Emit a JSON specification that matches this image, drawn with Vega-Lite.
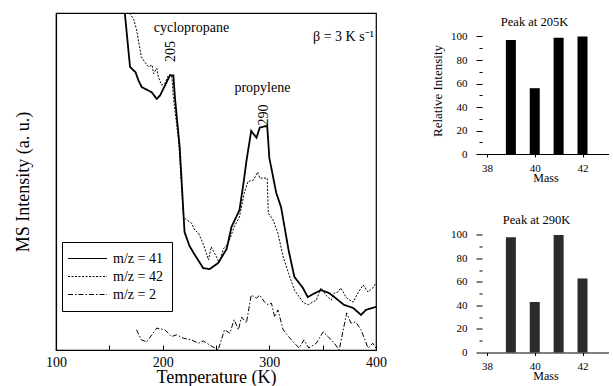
{
  "$schema": "https://vega.github.io/schema/vega-lite/v6.json",
  "padding": {"left": 13, "top": 12, "right": 0, "bottom": 0},
  "background": "white",
  "config": {
    "font": "Liberation Serif",
    "view": {"stroke": null},
    "axis": {"domainColor": "black", "tickColor": "black", "labelColor": "black", "titleColor": "black", "labelFont": "Liberation Serif", "titleFont": "Liberation Serif", "titleFontWeight": "normal", "grid": false, "labelOverlap": false},
    "title": {"font": "Liberation Serif", "fontWeight": "normal", "color": "black"},
    "text": {"font": "Liberation Serif", "color": "black"}
  },
  "datasets": {
    "tpd": [
      {"T":164.5,"I":100,"s":"m/z = 41"},{"T":169.4,"I":84,"s":"m/z = 41"},{"T":174.6,"I":82.4,"s":"m/z = 41"},{"T":177.3,"I":80,"s":"m/z = 41"},{"T":180.4,"I":78,"s":"m/z = 41"},{"T":183.5,"I":77.5,"s":"m/z = 41"},{"T":189.7,"I":76.5,"s":"m/z = 41"},{"T":194.4,"I":74.5,"s":"m/z = 41"},{"T":197.5,"I":75.5,"s":"m/z = 41"},{"T":202.2,"I":78.5,"s":"m/z = 41"},{"T":206.8,"I":81.5,"s":"m/z = 41"},{"T":210,"I":81.5,"s":"m/z = 41"},{"T":211.5,"I":75,"s":"m/z = 41"},{"T":216,"I":60,"s":"m/z = 41"},{"T":220.5,"I":35,"s":"m/z = 41"},{"T":225,"I":31,"s":"m/z = 41"},{"T":229,"I":28.8,"s":"m/z = 41"},{"T":238,"I":24.3,"s":"m/z = 41"},{"T":244,"I":24,"s":"m/z = 41"},{"T":252,"I":25.8,"s":"m/z = 41"},{"T":260,"I":30,"s":"m/z = 41"},{"T":264.5,"I":36.5,"s":"m/z = 41"},{"T":272,"I":41.5,"s":"m/z = 41"},{"T":276,"I":50,"s":"m/z = 41"},{"T":278.5,"I":56,"s":"m/z = 41"},{"T":283,"I":65,"s":"m/z = 41"},{"T":288,"I":63,"s":"m/z = 41"},{"T":291,"I":66,"s":"m/z = 41"},{"T":298,"I":66.5,"s":"m/z = 41"},{"T":300,"I":57,"s":"m/z = 41"},{"T":306.5,"I":46.6,"s":"m/z = 41"},{"T":311,"I":42.4,"s":"m/z = 41"},{"T":318,"I":29.7,"s":"m/z = 41"},{"T":323.5,"I":21.7,"s":"m/z = 41"},{"T":331.5,"I":18.4,"s":"m/z = 41"},{"T":336,"I":15.7,"s":"m/z = 41"},{"T":341,"I":16.6,"s":"m/z = 41"},{"T":348.5,"I":17.8,"s":"m/z = 41"},{"T":356,"I":16.9,"s":"m/z = 41"},{"T":361,"I":15.7,"s":"m/z = 41"},{"T":364.5,"I":14.8,"s":"m/z = 41"},{"T":370,"I":13.4,"s":"m/z = 41"},{"T":378.5,"I":12.5,"s":"m/z = 41"},{"T":386,"I":10.4,"s":"m/z = 41"},{"T":390.5,"I":11.9,"s":"m/z = 41"},{"T":400,"I":12.8,"s":"m/z = 41"},
      {"T":169,"I":100,"s":"m/z = 42"},{"T":173,"I":98,"s":"m/z = 42"},{"T":175.5,"I":95,"s":"m/z = 42"},{"T":180,"I":87,"s":"m/z = 42"},{"T":183,"I":85.5,"s":"m/z = 42"},{"T":187,"I":84,"s":"m/z = 42"},{"T":190,"I":84.6,"s":"m/z = 42"},{"T":191.5,"I":82,"s":"m/z = 42"},{"T":194.5,"I":83.6,"s":"m/z = 42"},{"T":196,"I":81,"s":"m/z = 42"},{"T":199,"I":78.6,"s":"m/z = 42"},{"T":202,"I":79,"s":"m/z = 42"},{"T":205.5,"I":81.6,"s":"m/z = 42"},{"T":208.5,"I":81.6,"s":"m/z = 42"},{"T":210,"I":75,"s":"m/z = 42"},{"T":215,"I":62,"s":"m/z = 42"},{"T":219.5,"I":39.5,"s":"m/z = 42"},{"T":222.5,"I":38.6,"s":"m/z = 42"},{"T":227,"I":37.7,"s":"m/z = 42"},{"T":230,"I":35.6,"s":"m/z = 42"},{"T":233.5,"I":34.7,"s":"m/z = 42"},{"T":236.5,"I":32.6,"s":"m/z = 42"},{"T":239,"I":30.6,"s":"m/z = 42"},{"T":243,"I":26.7,"s":"m/z = 42"},{"T":245.5,"I":30.6,"s":"m/z = 42"},{"T":248.5,"I":28.8,"s":"m/z = 42"},{"T":253,"I":26,"s":"m/z = 42"},{"T":257,"I":30,"s":"m/z = 42"},{"T":261.5,"I":31.7,"s":"m/z = 42"},{"T":267,"I":36.5,"s":"m/z = 42"},{"T":272,"I":39.5,"s":"m/z = 42"},{"T":276.5,"I":46.6,"s":"m/z = 42"},{"T":280,"I":50,"s":"m/z = 42"},{"T":285,"I":50.4,"s":"m/z = 42"},{"T":289,"I":52.8,"s":"m/z = 42"},{"T":291,"I":51,"s":"m/z = 42"},{"T":298,"I":51,"s":"m/z = 42"},{"T":299,"I":40.6,"s":"m/z = 42"},{"T":303.5,"I":38.6,"s":"m/z = 42"},{"T":308,"I":34.7,"s":"m/z = 42"},{"T":313,"I":27.6,"s":"m/z = 42"},{"T":318,"I":22.8,"s":"m/z = 42"},{"T":323.5,"I":17.8,"s":"m/z = 42"},{"T":331.5,"I":14.2,"s":"m/z = 42"},{"T":336,"I":13.4,"s":"m/z = 42"},{"T":344,"I":14.8,"s":"m/z = 42"},{"T":348.5,"I":18.4,"s":"m/z = 42"},{"T":353,"I":16.3,"s":"m/z = 42"},{"T":358,"I":14.8,"s":"m/z = 42"},{"T":361,"I":16.9,"s":"m/z = 42"},{"T":364.5,"I":17.2,"s":"m/z = 42"},{"T":367,"I":18.4,"s":"m/z = 42"},{"T":372.5,"I":15.4,"s":"m/z = 42"},{"T":378.5,"I":14.2,"s":"m/z = 42"},{"T":383,"I":16.9,"s":"m/z = 42"},{"T":388,"I":19.3,"s":"m/z = 42"},{"T":392.5,"I":17.2,"s":"m/z = 42"},{"T":397,"I":18.4,"s":"m/z = 42"},{"T":400,"I":19.9,"s":"m/z = 42"},
      {"T":175.5,"I":6,"s":"m/z =   2"},{"T":180,"I":3,"s":"m/z =   2"},{"T":185,"I":2.4,"s":"m/z =   2"},{"T":194.5,"I":6.5,"s":"m/z =   2"},{"T":202,"I":6,"s":"m/z =   2"},{"T":208.5,"I":4,"s":"m/z =   2"},{"T":213,"I":4.5,"s":"m/z =   2"},{"T":219.5,"I":3.5,"s":"m/z =   2"},{"T":227,"I":3,"s":"m/z =   2"},{"T":233.5,"I":2,"s":"m/z =   2"},{"T":238,"I":2.7,"s":"m/z =   2"},{"T":244,"I":1.5,"s":"m/z =   2"},{"T":252,"I":0,"s":"m/z =   2"},{"T":258,"I":6,"s":"m/z =   2"},{"T":263,"I":5,"s":"m/z =   2"},{"T":267,"I":9,"s":"m/z =   2"},{"T":271,"I":6,"s":"m/z =   2"},{"T":274,"I":9.8,"s":"m/z =   2"},{"T":278.5,"I":8,"s":"m/z =   2"},{"T":283,"I":16.3,"s":"m/z =   2"},{"T":288,"I":15.4,"s":"m/z =   2"},{"T":291,"I":16.3,"s":"m/z =   2"},{"T":295.5,"I":14.2,"s":"m/z =   2"},{"T":299,"I":13.4,"s":"m/z =   2"},{"T":302,"I":13.9,"s":"m/z =   2"},{"T":305,"I":9.8,"s":"m/z =   2"},{"T":308,"I":11.9,"s":"m/z =   2"},{"T":313,"I":6,"s":"m/z =   2"},{"T":318,"I":4,"s":"m/z =   2"},{"T":323.5,"I":2,"s":"m/z =   2"},{"T":328,"I":0.6,"s":"m/z =   2"},{"T":332.5,"I":3,"s":"m/z =   2"},{"T":337,"I":0.6,"s":"m/z =   2"},{"T":344,"I":2,"s":"m/z =   2"},{"T":350.5,"I":5.4,"s":"m/z =   2"},{"T":355,"I":4,"s":"m/z =   2"},{"T":361,"I":2,"s":"m/z =   2"},{"T":365.5,"I":0,"s":"m/z =   2"},{"T":372.5,"I":11,"s":"m/z =   2"},{"T":376.5,"I":8,"s":"m/z =   2"},{"T":381,"I":8.3,"s":"m/z =   2"},{"T":386,"I":6,"s":"m/z =   2"},{"T":392.5,"I":0.6,"s":"m/z =   2"},{"T":397,"I":2,"s":"m/z =   2"},{"T":400,"I":0.6,"s":"m/z =   2"}
    ],
    "p205": [{"mass":39,"ri":97},{"mass":40,"ri":56},{"mass":41,"ri":99},{"mass":42,"ri":100}],
    "p290": [{"mass":39,"ri":98},{"mass":40,"ri":43},{"mass":41,"ri":100},{"mass":42,"ri":63}]
  },
  "spacing": 43,
  "hconcat": [
    {
      "width": 320, "height": 337,
      "view": {"stroke": "black", "strokeWidth": 1.2},
      "layer": [
        {
          "data": {"name": "tpd"},
          "mark": {"type": "line", "clip": true, "color": "black"},
          "encoding": {
            "x": {"field": "T", "type": "quantitative", "scale": {"domain": [100, 400], "nice": false, "zero": false},
              "axis": {"values": [100,150,200,250,300,350,400], "labelExpr": "datum.value % 100 == 0 ? datum.label : ''", "tickSize": -5, "labelFontSize": 14, "labelPadding": 10, "labelFlush": false, "title": "Temperature (K)", "titleFontSize": 18, "titlePadding": -1, "domainWidth": 1.2}},
            "y": {"field": "I", "type": "quantitative", "scale": {"domain": [0, 100], "nice": false},
              "axis": {"labels": false, "ticks": false, "title": "MS Intensity (a. u.)", "titleFontSize": 18, "titlePadding": 24, "domainWidth": 1.2}},
            "strokeDash": {"field": "s", "type": "nominal",
              "scale": {"domain": ["m/z = 41", "m/z = 42", "m/z =   2"], "range": [[1, 0], [2, 1.5], [5, 2, 1.5, 2]]},
              "legend": {"orient": "none", "legendX": 6, "legendY": 229, "title": null, "symbolType": "M-3,0H3", "symbolSize": 169, "symbolOffset": 9, "labelOffset": 18, "symbolStrokeWidth": 1.2, "symbolStrokeColor": "black", "labelFont": "Liberation Serif", "labelFontSize": 14, "labelColor": "black", "strokeColor": "black", "fillColor": "white", "padding": 9, "rowPadding": 3}},
            "strokeWidth": {"condition": {"test": "datum.s == 'm/z = 41'", "value": 1.8}, "value": 1}
          }
        },
        {
          "data": {"values": [{"T": 227, "I": 95.5, "label": "cyclopropane"}, {"T": 293.5, "I": 77.6, "label": "propylene"}]},
          "mark": {"type": "text", "fontSize": 14, "baseline": "middle", "align": "center"},
          "encoding": {"x": {"field": "T", "type": "quantitative"}, "y": {"field": "I", "type": "quantitative"}, "text": {"field": "label"}}
        },
        {
          "data": {"values": [{"T": 207.5, "I": 88.6, "label": "205"}, {"T": 295.3, "I": 69.7, "label": "290"}]},
          "mark": {"type": "text", "fontSize": 14, "angle": 270, "baseline": "middle", "align": "center"},
          "encoding": {"x": {"field": "T", "type": "quantitative"}, "y": {"field": "I", "type": "quantitative"}, "text": {"field": "label"}}
        },
        {
          "data": {"values": [{"T": 398, "I": 93, "label": "β = 3 K s⁻¹"}]},
          "mark": {"type": "text", "fontSize": 14, "baseline": "middle", "align": "right"},
          "encoding": {"x": {"field": "T", "type": "quantitative"}, "y": {"field": "I", "type": "quantitative"}, "text": {"field": "label"}}
        }
      ]
    },
    {"spacing": 26.5, "vconcat": [
      {
        "width": 127, "height": 141,
        "title": {"text": "Peak at 205K", "fontSize": 12.5, "offset": -21, "baseline": "middle", "dx": -11},
        "resolve": {"axis": {"x": "independent", "y": "independent"}},
        "layer": [
          {
            "data": {"name": "p205"},
            "mark": {"type": "bar", "color": "black", "size": 10},
            "encoding": {
              "x": {"field": "mass", "type": "quantitative", "scale": {"domain": [38, 42.9], "nice": false, "zero": false},
                "axis": {"values": [38, 40, 42], "tickSize": 3, "labelFontSize": 11, "labelPadding": 5, "labelFlush": false, "title": "Mass", "titleFontSize": 12, "titlePadding": -1}},
              "y": {"field": "ri", "type": "quantitative", "scale": {"domain": [0, 120], "nice": false},
                "axis": {"domain": false, "labelOverlap": false, "values": [0,10,20,30,40,50,60,70,80,90,100], "labelExpr": "datum.value % 20 == 0 ? datum.label : ''", "tickSize": {"condition": {"test": "datum.value % 20 == 0", "value": 6}, "value": 3}, "labelFontSize": 11, "labelPadding": 9, "title": "Relative Intensity", "titleFontSize": 13, "titlePadding": 6, "titleY": 77.5}}
            }
          },
          {
            "mark": {"type": "rule", "color": "black"},
            "encoding": {"x": {"datum": 38, "axis": null}, "y": {"datum": 0, "axis": null}, "y2": {"datum": 104}}
          }
        ]
      },
      {
        "width": 127, "height": 143,
        "title": {"text": "Peak at 290K", "fontSize": 12.5, "offset": -22.5, "baseline": "middle", "dx": -9},
        "resolve": {"axis": {"x": "independent", "y": "independent"}},
        "layer": [
          {
            "data": {"name": "p290"},
            "mark": {"type": "bar", "color": "#2b2b2b", "size": 10},
            "encoding": {
              "x": {"field": "mass", "type": "quantitative", "scale": {"domain": [38, 42.9], "nice": false, "zero": false},
                "axis": {"values": [38, 40, 42], "tickSize": 3, "labelFontSize": 11, "labelPadding": 5, "labelFlush": false, "title": "Mass", "titleFontSize": 12, "titlePadding": -1}},
              "y": {"field": "ri", "type": "quantitative", "scale": {"domain": [0, 121.7], "nice": false},
                "axis": {"domain": false, "labelOverlap": false, "values": [0,10,20,30,40,50,60,70,80,90,100], "labelExpr": "datum.value % 20 == 0 ? datum.label : ''", "tickSize": {"condition": {"test": "datum.value % 20 == 0", "value": 6}, "value": 3}, "labelFontSize": 11, "labelPadding": 9, "title": null}}
            }
          },
          {
            "mark": {"type": "rule", "color": "black"},
            "encoding": {"x": {"datum": 38, "axis": null}, "y": {"datum": 0, "axis": null}, "y2": {"datum": 108.8}}
          }
        ]
      }
    ]}
  ]
}
